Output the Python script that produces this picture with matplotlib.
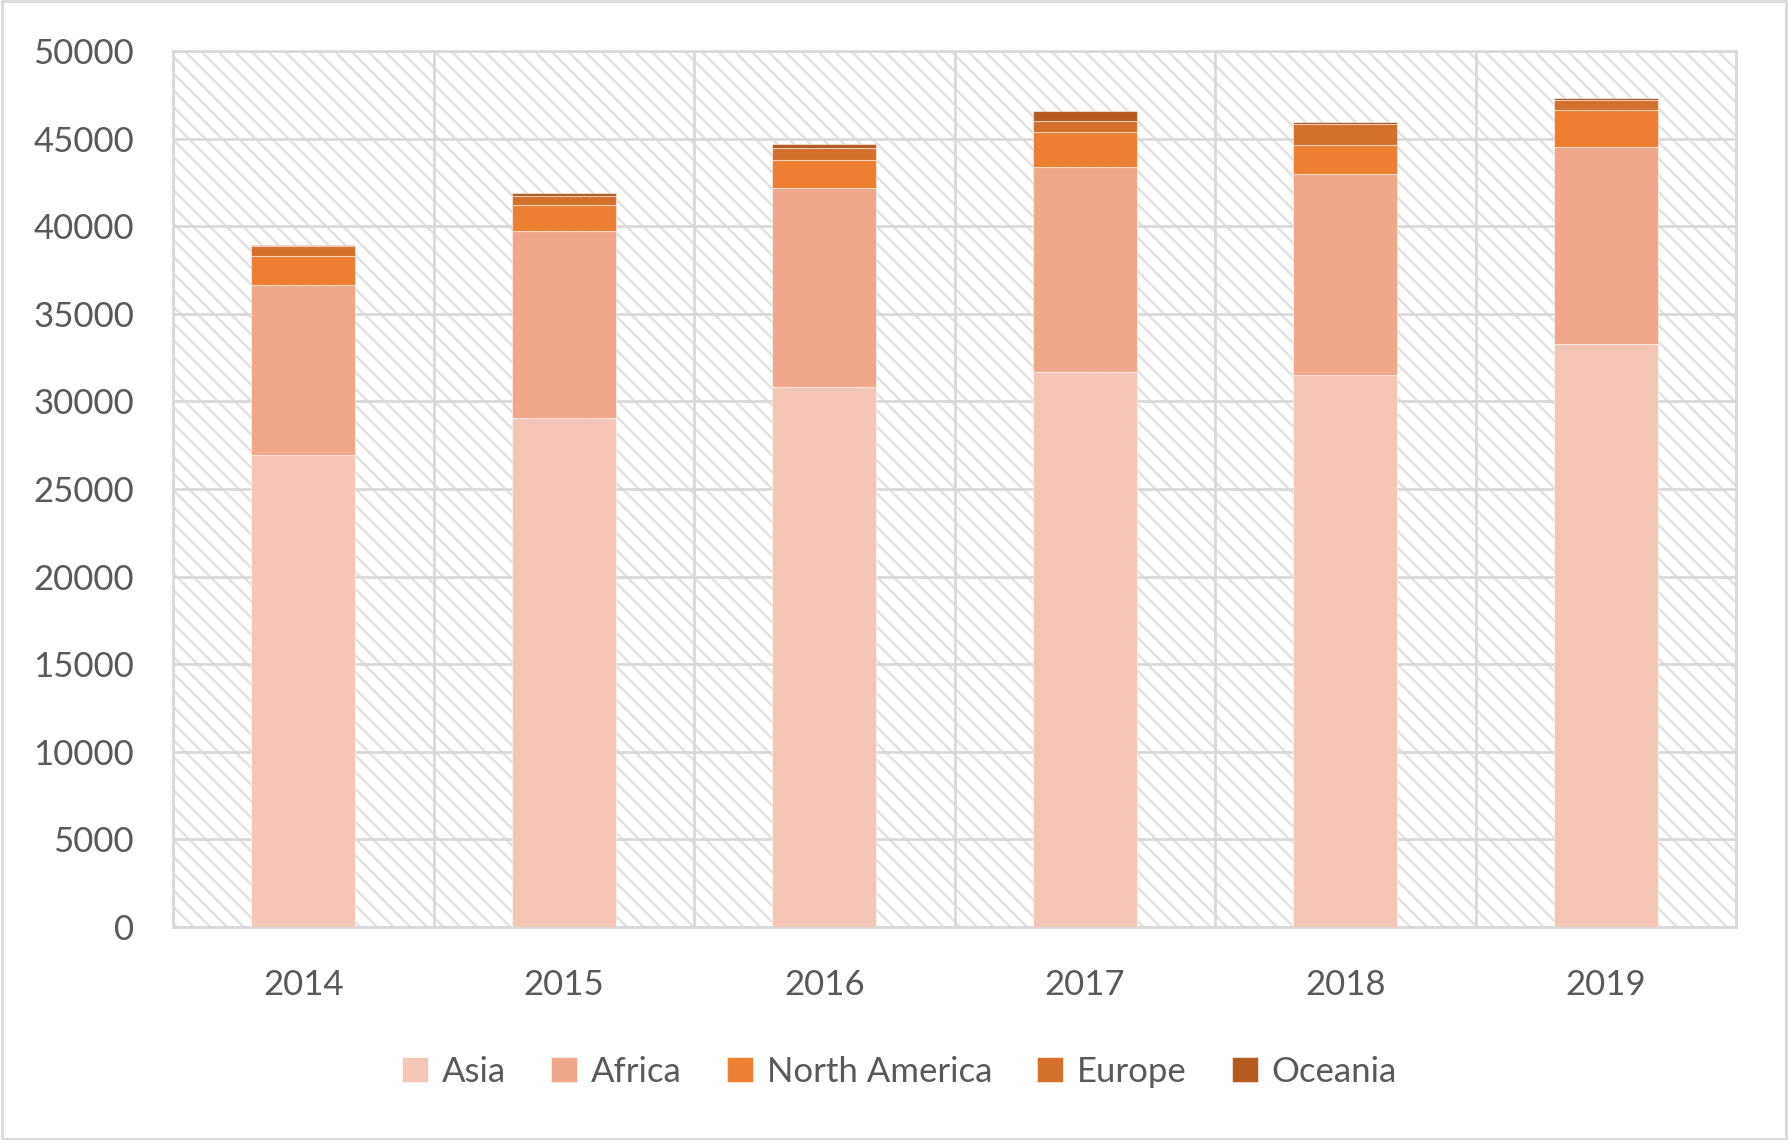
import matplotlib.pyplot as plt
import matplotlib as mpl
import numpy as np
from matplotlib.patches import Rectangle

years = ['2014', '2015', '2016', '2017', '2018', '2019']
asia = [26950, 29050, 30800, 31700, 31500, 33270]
africa = [9700, 10650, 11380, 11700, 11470, 11270]
north_america = [1625, 1520, 1620, 1970, 1690, 2080]
europe = [570, 515, 670, 650, 1170, 580]
oceania = [100, 155, 245, 530, 115, 140]

series = [('Asia', asia, '#F5C6B7'),
          ('Africa', africa, '#F1A78A'),
          ('North America', north_america, '#EE7E32'),
          ('Europe', europe, '#D4702C'),
          ('Oceania', oceania, '#B55A1F')]

plt.rcParams['font.family'] = ['Lato', 'DejaVu Sans']
mpl.rcParams['hatch.linewidth'] = 1.8

fig = plt.figure(figsize=(17.88, 11.4), dpi=100)
ax = fig.add_axes([173 / 1788, 1 - 927 / 1140, (1736 - 173) / 1788, (927 - 51) / 1140])

# hatched plot area (hatch colour follows the edge colour)
ax.add_patch(Rectangle((0, 0), 1, 1, transform=ax.transAxes, facecolor='white',
                       edgecolor='#E2E2E2', linewidth=0, hatch='\\\\', zorder=0))

x = np.arange(len(years))
bottom = np.zeros(len(years))
for name, vals, color in series:
    ax.bar(x, vals, width=0.4, bottom=bottom, color=color, label=name,
           edgecolor='#FFFFFF80', linewidth=0.8, zorder=3)
    bottom += np.array(vals)

ax.set_xlim(-0.5, len(years) - 0.5)
ax.set_ylim(0, 50000)
ax.set_yticks(range(0, 50001, 5000))
ax.set_xticks(x)
ax.set_xticklabels(years)
ax.set_xticks(np.arange(-0.5, len(years)), minor=True)
ax.grid(True, axis='y', color='#D9D9D9', linewidth=2, zorder=1)
ax.grid(True, axis='x', which='minor', color='#D9D9D9', linewidth=2, zorder=1)
ax.grid(False, axis='x', which='major')
ax.tick_params(axis='both', which='both', length=0, labelsize=25, colors='#595959')
ax.tick_params(axis='y', pad=28)
ax.tick_params(axis='x', pad=30)
for s in ax.spines.values():
    s.set_color('#D9D9D9')
    s.set_linewidth(2)

leg = fig.legend(loc='center', bbox_to_anchor=(0.503, 0.06), ncol=5, frameon=False,
                 fontsize=25, handlelength=0.75, handleheight=0.75, handletextpad=0.4,
                 columnspacing=1.3, labelcolor='#595959')

fig.add_artist(Rectangle((0.001, 0.001), 0.998, 0.998, transform=fig.transFigure,
                         fill=False, edgecolor='#D9D9D9', linewidth=2))

fig.savefig('out.png', dpi=100)
